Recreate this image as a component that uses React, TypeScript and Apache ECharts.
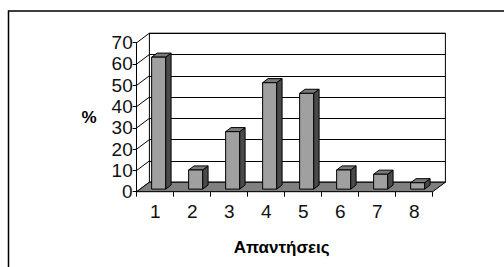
import React, { useEffect, useRef } from "react";
import * as echarts from "echarts";

const categories = ["1", "2", "3", "4", "5", "6", "7", "8"];
const values = [62, 9, 27, 50, 45, 9, 7, 3];
const yTicks = [0, 10, 20, 30, 40, 50, 60, 70];
const xTitle = "Απαντήσεις";
const yTitle = "%";

const FONT = "'Liberation Sans', Arial, sans-serif";
const FRONT = { left: 136.7, top: 42.7, width: 296, height: 149 };
const DEPTH = { x: 12.7, y: -9.5 };
const BAR_FRONT = 0.27;
const BAR_DEPTH = 0.43;
const BAR_W = 14;

export default function App() {
  const ref = useRef<HTMLDivElement>(null);
  useEffect(() => {
    document.body.style.margin = "0";
    const chart = echarts.init(ref.current!, null, { renderer: "svg" });
    const option: any = {
      animation: false,
      backgroundColor: "#fff",
      textStyle: { fontFamily: FONT },
      graphic: [
        {
          type: "rect",
          shape: { x: 8.5, y: 11, width: 700, height: 500 },
          style: { fill: "none", stroke: "#000", lineWidth: 1.5 },
          silent: true,
        },
      ],
      grid: [
        { ...FRONT },
        {
          left: FRONT.left + DEPTH.x,
          top: FRONT.top + DEPTH.y,
          width: FRONT.width,
          height: FRONT.height,
          show: true,
          borderColor: "#000",
          borderWidth: 1,
        },
      ],
      xAxis: [
        {
          gridIndex: 0,
          type: "category",
          data: categories,
          axisLine: { show: true, lineStyle: { color: "#000", width: 1 } },
          axisTick: { show: true, length: 5, lineStyle: { color: "#000" } },
          axisLabel: { fontSize: 19, color: "#111", margin: 10, fontFamily: FONT },
          name: xTitle,
          nameLocation: "middle",
          nameGap: 47,
          nameTextStyle: {
            fontSize: 17,
            fontWeight: "bold",
            color: "#000",
            fontFamily: FONT,
            padding: [0, 6, 0, 0],
          },
        },
        { gridIndex: 1, type: "category", data: categories, show: false },
      ],
      yAxis: [
        {
          gridIndex: 0,
          type: "value",
          min: 0,
          max: 70,
          interval: 10,
          axisLine: { show: true, lineStyle: { color: "#000", width: 1 } },
          axisTick: { show: true, length: 4, lineStyle: { color: "#000" } },
          splitLine: { show: false },
          axisLabel: { fontSize: 19, color: "#111", margin: 4, fontFamily: FONT },
          name: yTitle,
          nameLocation: "middle",
          nameRotate: 0,
          nameGap: 40,
          nameTextStyle: { fontSize: 17, fontWeight: "bold", color: "#000", fontFamily: FONT },
        },
        {
          gridIndex: 1,
          type: "value",
          min: 0,
          max: 70,
          interval: 10,
          axisLine: { show: false },
          axisTick: { show: false },
          axisLabel: { show: false },
          splitLine: { show: true, lineStyle: { color: "#000", width: 1 } },
        },
      ],
      series: [
        {
          type: "custom",
          name: "wall",
          xAxisIndex: 0,
          yAxisIndex: 0,
          clip: false,
          silent: true,
          z: 1,
          data: yTicks.map((v) => [0, v]),
          renderItem: (params: any, api: any) => {
            const c = api.coord([0, api.value(1)]);
            const bw = api.size([1, 0])[0];
            const x = c[0] - bw / 2;
            return {
              type: "line",
              shape: { x1: x, y1: c[1], x2: x + DEPTH.x, y2: c[1] + DEPTH.y },
              style: { stroke: "#000", lineWidth: 1 },
            };
          },
        },
        {
          type: "custom",
          name: "floor",
          xAxisIndex: 0,
          yAxisIndex: 0,
          clip: false,
          silent: true,
          z: 2,
          data: [[0, 0]],
          renderItem: (params: any, api: any) => {
            const bw = api.size([1, 0])[0];
            const a = api.coord([0, 0]);
            const b = api.coord([categories.length - 1, 0]);
            const L = a[0] - bw / 2;
            const R = b[0] + bw / 2;
            const y = a[1];
            return {
              type: "polygon",
              shape: {
                points: [
                  [L, y],
                  [L + DEPTH.x, y + DEPTH.y],
                  [R + DEPTH.x, y + DEPTH.y],
                  [R, y],
                ],
              },
              style: { fill: "#808080", stroke: "#000", lineWidth: 1 },
            };
          },
        },
        {
          type: "custom",
          name: "bars",
          xAxisIndex: 0,
          yAxisIndex: 0,
          clip: false,
          z: 3,
          data: values.map((v, i) => [i, v]),
          renderItem: (params: any, api: any) => {
            const i = api.value(0);
            const c = api.coord([i, api.value(1)]);
            const c0 = api.coord([i, 0]);
            const ox = DEPTH.x * BAR_FRONT;
            const oy = DEPTH.y * BAR_FRONT;
            const dx = DEPTH.x * BAR_DEPTH;
            const dy = DEPTH.y * BAR_DEPTH;
            const x = c[0] + ox - BAR_W / 2;
            const top = c[1] + oy;
            const bot = c0[1] + oy;
            const st = { stroke: "#000", lineWidth: 1 };
            return {
              type: "group",
              children: [
                {
                  type: "polygon",
                  shape: {
                    points: [
                      [x + BAR_W, top],
                      [x + BAR_W + dx, top + dy],
                      [x + BAR_W + dx, bot + dy],
                      [x + BAR_W, bot],
                    ],
                  },
                  style: { fill: "#4a4a4a", ...st },
                },
                {
                  type: "polygon",
                  shape: {
                    points: [
                      [x, top],
                      [x + dx, top + dy],
                      [x + BAR_W + dx, top + dy],
                      [x + BAR_W, top],
                    ],
                  },
                  style: { fill: "#7a7a7a", ...st },
                },
                {
                  type: "rect",
                  shape: { x, y: top, width: BAR_W, height: bot - top },
                  style: { fill: "#a0a0a0", ...st },
                },
              ],
            };
          },
        },
      ],
    };
    chart.setOption(option);
    return () => chart.dispose();
  }, []);
  return (
    <div
      ref={ref}
      style={{ position: "fixed", left: 0, top: 0, width: 504, height: 267 }}
    />
  );
}
